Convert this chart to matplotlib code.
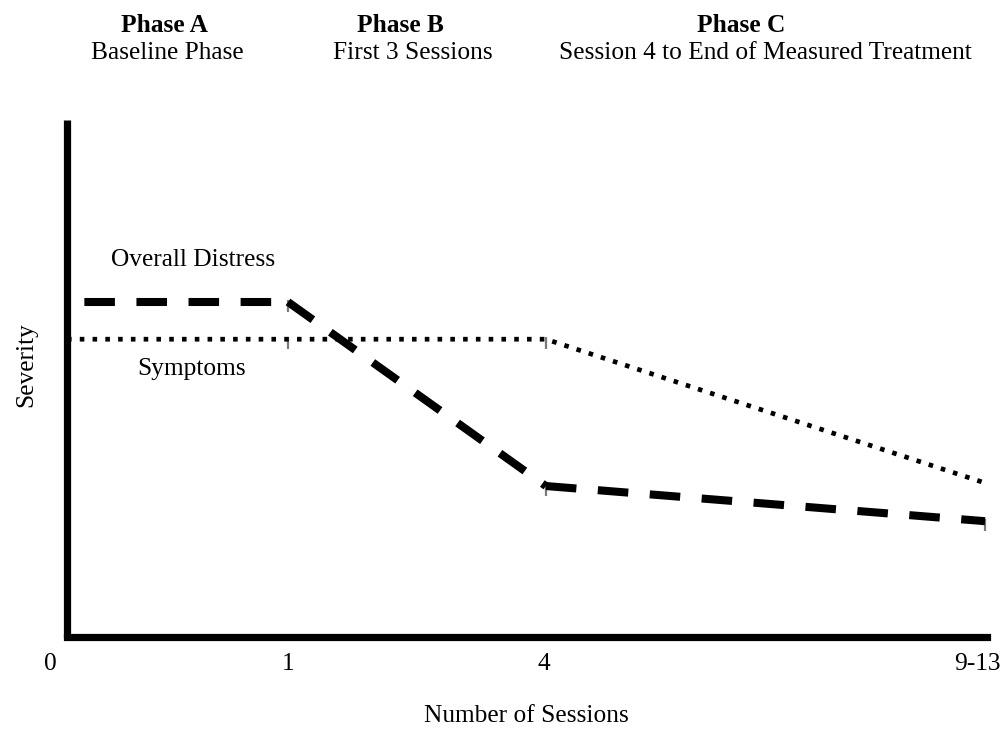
import matplotlib
matplotlib.use("Agg")
import matplotlib.pyplot as plt
from matplotlib.path import Path

# ---- data ----
session_labels = ["0", "1", "4", "9-13"]
session_pos = [0, 1, 2.167, 4.154]
distress = [6.48, 6.48, 2.92, 2.24]
symptoms = [5.76, 5.76, 5.76, 2.98]
phase_titles = ["Phase A", "Phase B", "Phase C"]
phase_subtitles = ["Baseline Phase", "First 3 Sessions", "Session 4 to End of Measured Treatment"]

W, H = 1003, 731
plt.rcParams["lines.scale_dashes"] = False
FONT = ["Liberation Serif", "DejaVu Serif"]
FS = 18.3

fig = plt.figure(figsize=(W / 100, H / 100), dpi=100)
ax = fig.add_axes([67 / W, 1 - 637 / H, 920 / W, 517 / H])
ax.set_xlim(0, 4.163)
ax.set_ylim(0, 10)

for s in ["top", "right"]:
    ax.spines[s].set_visible(False)
for s in ["left", "bottom"]:
    ax.spines[s].set_linewidth(5.2)
    ax.spines[s].set_color("black")
ax.spines["bottom"].set_capstyle("projecting")
ax.spines["left"].set_capstyle("butt")
ax.set_xticks([])
ax.set_yticks([])

# grey tick markers at measurement points
tick_marker = Path([(0, 0.15), (0, -1.0)])
ax.plot(session_pos[1:], distress[1:], linestyle="none", marker=tick_marker,
        markersize=15, markeredgewidth=1.6, color="#7a7a7a", zorder=2)
ax.plot(session_pos[1:3], symptoms[1:3], linestyle="none", marker=tick_marker,
        markersize=15, markeredgewidth=1.6, color="#7a7a7a", zorder=2)

# symptoms: dotted
ax.plot(session_pos, symptoms, color="black", linewidth=3.4,
        linestyle=(0, (3.3, 5.9)), dash_capstyle="butt", zorder=3)

# overall distress: dashed, restarted at every vertex
dash = (22.0, 15.5)
for i in range(len(session_pos) - 1):
    off = 25.0 if i == 0 else 0.0
    ax.plot(session_pos[i:i + 2], distress[i:i + 2], color="black", linewidth=5.8,
            linestyle=(off, dash), dash_capstyle="butt", zorder=4)

# x tick labels
label_dx = [-17, 0, -2, -8]
for lab, xp, dx in zip(session_labels, session_pos, label_dx):
    ax.annotate(lab, xy=(xp, 0), xycoords=("data", "axes fraction"),
                xytext=(dx, -33), textcoords="offset pixels",
                ha="center", va="baseline", fontsize=FS, family=FONT)

def ftext(x, y, s, **kw):
    fig.text(x / W, 1 - y / H, s, family=FONT, fontsize=FS, **kw)

phase_x = [164, 400, 741]
sub_x = [167, 413, 765]
for t, st, px, sx in zip(phase_titles, phase_subtitles, phase_x, sub_x):
    ftext(px, 32, t, ha="center", va="baseline", fontweight="bold")
    ftext(sx, 59, st, ha="center", va="baseline")

ftext(193, 266, "Overall Distress", ha="center", va="baseline")
ftext(192, 375, "Symptoms", ha="center", va="baseline")
ftext(526, 722, "Number of Sessions", ha="center", va="baseline")
ftext(26, 365, "Severity", ha="center", va="center", rotation=90)

fig.savefig("out.png", dpi=100)
